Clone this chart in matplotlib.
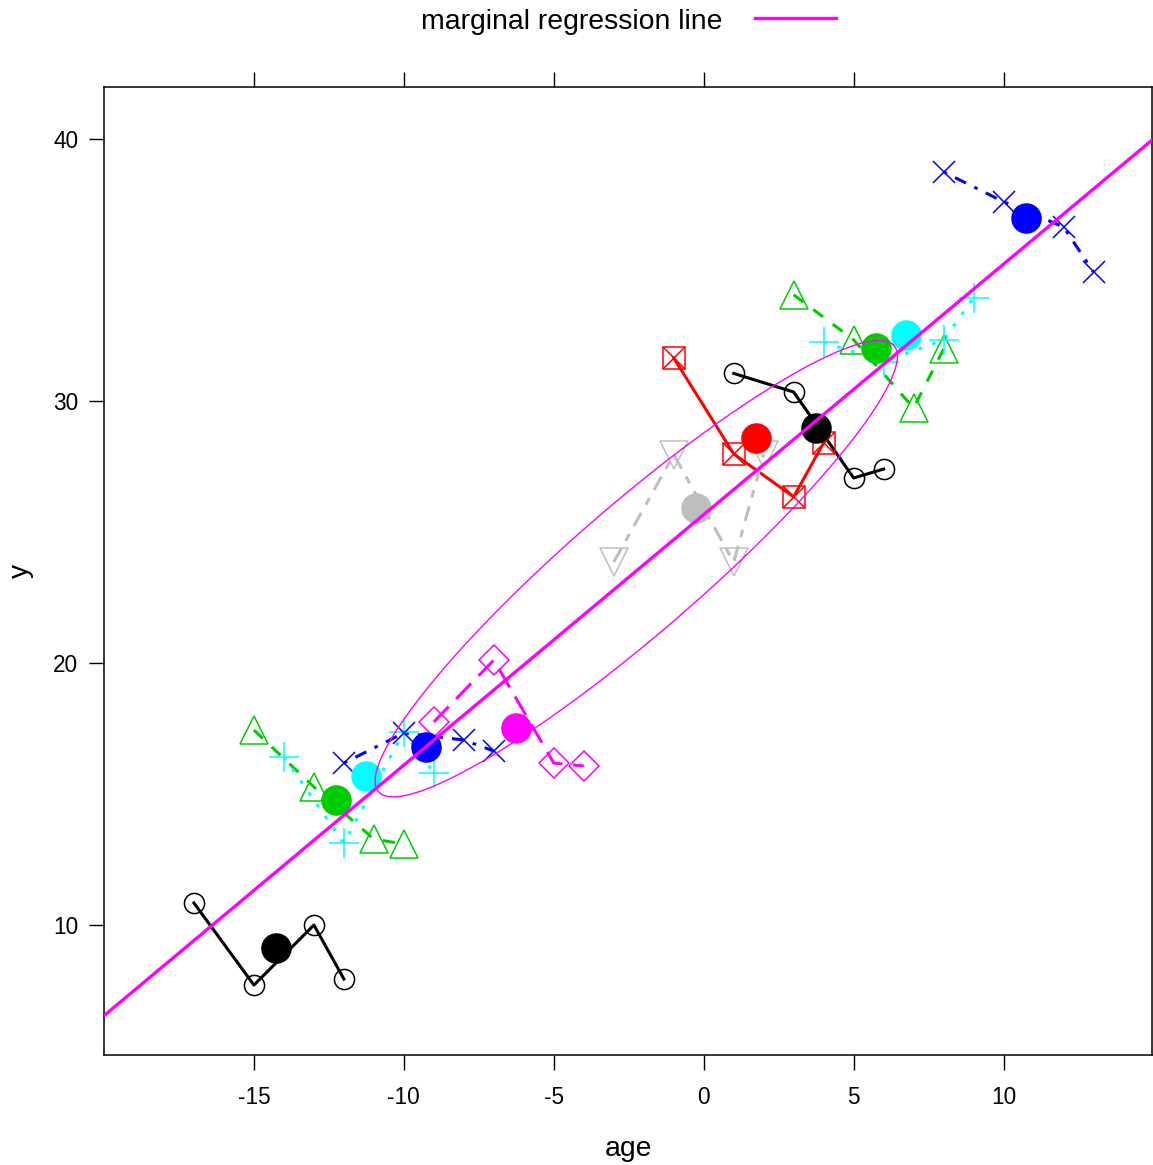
import numpy as np
import matplotlib
matplotlib.use("Agg")
from matplotlib import pyplot as plt
from matplotlib.lines import Line2D
from matplotlib.patches import Ellipse

plt.rcParams['font.family'] = ['Liberation Sans', 'DejaVu Sans']
plt.rcParams['axes.unicode_minus'] = False

# one entry per subject: ages and responses
ages = [
    [-17, -15, -13, -12],   # black, lower left
    [1, 3, 5, 6],           # black, upper
    [-1, 1, 3, 4],          # red
    [-3, -1, 1, 2],         # gray
    [-15, -13, -11, -10],   # green, lower
    [3, 5, 7, 8],           # green, upper
    [-14, -12, -10, -9],    # cyan, lower
    [4, 6, 8, 9],           # cyan, upper
    [-12, -10, -8, -7],     # blue, lower
    [8, 10, 12, 13],        # blue, upper
    [-9, -7, -5, -4],       # magenta
]
yvals = [
    [10.84, 7.71, 10.0, 7.94],
    [31.05, 30.34, 27.06, 27.40],
    [31.64, 27.98, 26.34, 28.40],
    [23.85, 27.95, 23.85, 27.95],
    [17.44, 15.27, 13.28, 13.09],
    [34.05, 32.33, 29.73, 31.98],
    [16.41, 13.13, 17.37, 15.80],
    [32.25, 31.49, 32.33, 33.93],
    [16.18, 17.33, 17.06, 16.64],
    [38.74, 37.60, 36.64, 34.92],
    [17.75, 20.11, 16.18, 16.07],
]
colors = ['black', 'black', '#FF0000', '#BEBEBE', '#00CD00', '#00CD00',
          '#00FFFF', '#00FFFF', '#0000FF', '#0000FF', '#FF00FF']
markers = ['o', 'o', 's', 'v', '^', '^', '+', '+', 'x', 'x', 'D']
msizes = [14.5, 14.5, 16, 20, 20, 20, 22, 22, 16, 16, 15]
dashes = ['-', '-', '-', (0, (5, 3, 2.5, 3)), (0, (4, 4)), (0, (4, 4)),
          (0, (1.2, 3.5)), (0, (1.2, 3.5)), (0, (1.2, 3, 4, 3)), (0, (1.2, 3, 4, 3)),
          (0, (7, 3.5))]

# marginal regression line
reg_intercept = 25.66
reg_slope = 0.956

# ellipse: centre, full axes lengths (data units), angle
ell_center = (-2.25, 23.6)
ell_major = 24.2
ell_minor = 4.6
ell_angle = 45.0

fig = plt.figure(figsize=(11.53, 11.65), dpi=100)
ax = fig.add_axes([104/1153, 1 - 1055/1165, 1048/1153, 968/1165])

for i in range(len(ages)):
    ax.plot(ages[i], yvals[i], color=colors[i], linestyle=dashes[i], linewidth=2.2, zorder=2)
    if markers[i] == 's':
        ax.plot(ages[i], yvals[i], linestyle='none', marker='s', markersize=msizes[i],
                markerfacecolor='none', markeredgecolor=colors[i], markeredgewidth=1.1, zorder=3)
        ax.plot(ages[i], yvals[i], linestyle='none', marker='x', markersize=msizes[i],
                markeredgecolor=colors[i], markeredgewidth=1.1, zorder=3)
    else:
        ax.plot(ages[i], yvals[i], linestyle='none', marker=markers[i], markersize=msizes[i],
                markerfacecolor='none', markeredgecolor=colors[i], markeredgewidth=1.1, zorder=3)
    # subject mean
    ax.plot(np.mean(ages[i]), np.mean(yvals[i]), marker='o', markersize=22,
            color=colors[i], markeredgewidth=0, zorder=4)

# ellipse is drawn in data units, so build it from a unit circle
t = np.linspace(0, 2*np.pi, 300)
a = np.deg2rad(ell_angle)
u = ell_major/2*np.cos(t)
v = ell_minor/2*np.sin(t)
ex = ell_center[0] + u*np.cos(a) - v*np.sin(a)
ey = ell_center[1] + u*np.sin(a) + v*np.cos(a)
ax.plot(ex, ey, color='#FF00FF', linewidth=1.0, zorder=5)

xs = np.array([-20, 15])
ax.plot(xs, reg_intercept + reg_slope*xs, color='#FF00FF', linewidth=2.4, zorder=6)

ax.set_xlim(-20, 14.95)
ax.set_ylim(5.04, 41.98)
ax.set_xticks([-15, -10, -5, 0, 5, 10])
ax.set_yticks([10, 20, 30, 40])
ax.tick_params(axis='x', which='both', direction='out', length=10.5, width=1, labelsize=16.3,
               pad=12, top=True, labeltop=False)
ax.tick_params(axis='y', which='both', direction='out', length=10.5, width=1, labelsize=16.3,
               pad=8, right=False)
for s in ax.spines.values():
    s.set_linewidth(1.1)
ax.set_xlabel('age', fontsize=20.4, labelpad=19)
ax.set_ylabel('y', fontsize=20.4, labelpad=14)

fig.text(572/1153, 1 - 22/1165, 'marginal regression line', fontsize=20.4, ha='center', va='center')
fig.add_artist(Line2D([755/1153, 836/1153], [1 - 18/1165, 1 - 18/1165], color='#FF00FF', linewidth=2.4))

fig.savefig('out.png', dpi=100)
